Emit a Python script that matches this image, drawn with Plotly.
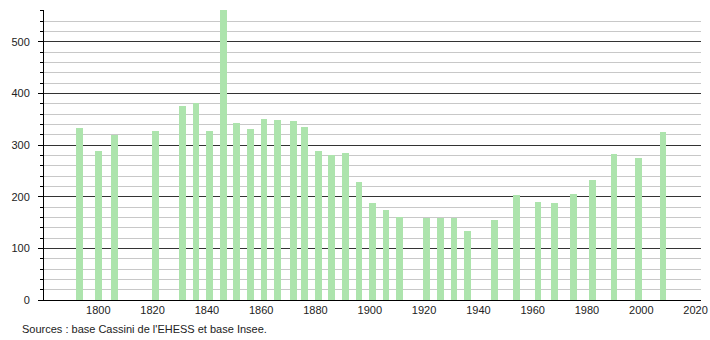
import plotly.graph_objects as go

years = [1793, 1800, 1806, 1821, 1831, 1836, 1841, 1846, 1851, 1856, 1861, 1866,
         1872, 1876, 1881, 1886, 1891, 1896, 1901, 1906, 1911, 1921, 1926, 1931,
         1936, 1946, 1954, 1962, 1968, 1975, 1982, 1990, 1999, 2008]
population = [334, 289, 319, 328, 376, 382, 328, 561, 343, 331, 350, 348,
              346, 335, 289, 281, 285, 228, 188, 175, 161, 158, 158, 158,
              134, 154, 204, 190, 187, 206, 233, 283, 275, 325]

x_ticks = [1800, 1820, 1840, 1860, 1880, 1900, 1920, 1940, 1960, 1980, 2000, 2020]
y_ticks = [0, 100, 200, 300, 400, 500]
source_text = "Sources : base Cassini de l'EHESS et base Insee."

font_family = "Arial, Liberation Sans, sans-serif"

fig = go.Figure()
fig.add_trace(go.Bar(
    x=years, y=population, width=2.45,
    marker=dict(color="#ade4ad", line=dict(width=0)),
    hoverinfo="x+y",
))

fig.update_layout(
    width=710, height=340,
    margin=dict(l=44, r=9, t=10, b=40, autoexpand=False),
    paper_bgcolor="white", plot_bgcolor="white",
    showlegend=False,
    font=dict(family=font_family, size=11, color="#222"),
    bargap=0,
)

fig.update_xaxes(
    range=[1780, 2022], automargin=False,
    tickmode="array", tickvals=x_ticks, ticktext=[str(t) for t in x_ticks],
    showgrid=False, zeroline=False,
    showline=True, linecolor="black", linewidth=1,
    ticks="", ticklabelstandoff=0,
    tickfont=dict(size=11, color="#222"),
)

fig.update_yaxes(
    range=[0, 561.7], automargin=False,
    tickmode="array", tickvals=y_ticks, ticktext=[str(t) for t in y_ticks],
    showgrid=True, gridcolor="#333", gridwidth=1,
    zeroline=False,
    showline=True, linecolor="black", linewidth=1,
    ticks="outside", ticklen=5, tickcolor="black", tickwidth=1,
    ticklabelstandoff=6,
    tickfont=dict(size=11, color="#222"),
    minor=dict(dtick=20, tick0=0, showgrid=True, gridcolor="#c8c8c8", gridwidth=1,
               ticks="outside", ticklen=3, tickcolor="black", tickwidth=1),
)

fig.add_annotation(
    text=source_text, xref="paper", yref="paper",
    x=-24 / 657, y=-29 / 290, xanchor="left", yanchor="middle",
    showarrow=False, font=dict(size=11, color="#222", family=font_family),
)

fig.write_html("out.html")
